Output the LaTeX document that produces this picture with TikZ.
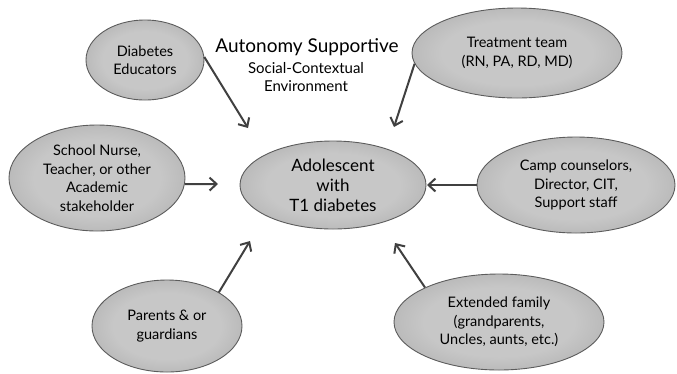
\documentclass[tikz,border=0pt]{standalone}
\usepackage{fontspec}
\setmainfont{Lato}
\usetikzlibrary{shapes.geometric,arrows.meta}
\definecolor{ellin}{gray}{0.78}
\definecolor{ellout}{gray}{0.56}
\definecolor{ellrim}{gray}{0.36}
\definecolor{arrowgray}{gray}{0.25}
\pgfdeclareradialshading{ellshade}{\pgfpoint{0bp}{0bp}}{%
  color(0bp)=(ellin); color(18bp)=(ellin); color(50bp)=(ellout); color(70bp)=(ellout)}
\begin{document}
\begin{tikzpicture}[x=1pt,y=-1pt,
  bubble/.style={ellipse, draw=ellrim, line width=0.9pt, shading=ellshade,
    inner sep=0pt, align=center, font=\fontsize{14.5}{18.5}\selectfont},
  influence/.style={draw=arrowgray, line width=2pt,
    -{Straight Barb[length=7pt,width=13pt]}}]
\useasboundingbox (0,0) rectangle (677,373);

% surrounding actors
\node[bubble, minimum width=118, minimum height=80] (edu) at (145,60) {Diabetes\\Educators};
\node[bubble, minimum width=210, minimum height=90] (trt) at (517,53) {Treatment team\\(RN, PA, RD, MD)};
\node[bubble, minimum width=176, minimum height=106] (sch) at (97,178) {School Nurse,\\Teacher, or other\\Academic\\stakeholder};
\node[bubble, minimum width=198, minimum height=96] (camp) at (576,185) {Camp counselors,\\Director, CIT,\\Support staff};
\node[bubble, minimum width=150, minimum height=92] (par) at (167,326) {Parents \& or\\guardians};
\node[bubble, minimum width=210, minimum height=96] (ext) at (499,322) {Extended family\\(grandparents,\\Uncles, aunts, etc.)};

% the adolescent at the centre
\node[bubble, minimum width=186, minimum height=88,
  font=\fontsize{17}{20}\selectfont] (ado) at (333,185) {Adolescent\\with\\T1 diabetes};

% heading
\node[font=\fontsize{19}{22}\selectfont, anchor=base] (title) at (307,52) {Autonomy Supportive};
\node[font=\fontsize{15}{18.5}\selectfont, align=center] (sub) at (306,77) {Social-Contextual\\Environment};

% arrow ends
\coordinate (tedu) at (248,128);
\coordinate (ttrt) at (394,127);
\coordinate (tsch) at (218,184);
\coordinate (tcamp) at (427,185);
\coordinate (tpar) at (250,241);
\coordinate (text) at (395,243);

\draw[influence] (edu.3) -- (tedu);
\draw[influence] (trt.186) -- (ttrt);
\draw[influence] (sch.-4) -- (tsch);
\draw[influence] (camp.180) -- (tcamp);
\draw[influence] (par.33) -- (tpar);
\draw[influence] (ext.155) -- (text);
\end{tikzpicture}
\end{document}
